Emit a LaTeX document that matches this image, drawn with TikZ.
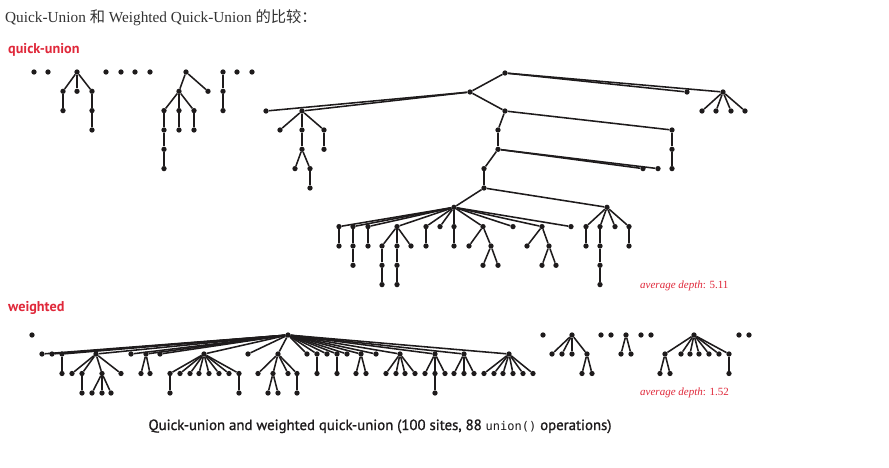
\documentclass[tikz,border=0pt]{standalone}
\usepackage{fontspec}
\setmainfont{Liberation Serif}
\newfontfamily\cjkfont{Noto Sans CJK SC}
\newfontfamily\lblfont{PT Sans}
\newfontfamily\capfont[FakeBold=1.2]{PT Sans}
\newfontfamily\codefont{DejaVu Sans Mono}
\definecolor{dotc}{HTML}{1E1B1C}
\definecolor{lblred}{HTML}{E0283A}
\definecolor{titlec}{HTML}{333333}
\begin{document}
\begin{tikzpicture}[x=1pt,y=-1pt,
  dot/.style={circle,fill=dotc,inner sep=0pt,minimum size=5.3pt},
  edge/.style={draw=dotc,line width=1.55pt},
  redlbl/.style={anchor=base west,text=lblred,font=\lblfont\bfseries\fontsize{14.2}{16}\selectfont},
  depthlbl/.style={anchor=base west,text=lblred,font=\fontsize{11}{13}\selectfont}]
\useasboundingbox[fill=white] (0,0) rectangle (889,467);

% ---------- texts ----------
\node[anchor=base west,text=titlec,font=\fontsize{15.3}{18}\selectfont,inner sep=0pt] (title) at (5,22)
  {Quick-Union {\cjkfont 和} Weighted Quick-Union {\cjkfont 的比较：}};
\node[redlbl,inner sep=0pt] (lq) at (8,53) {quick-union};
\node[redlbl,inner sep=0pt] (lw) at (8,311.5) {weighted};
\node[depthlbl,inner sep=0pt] (dq) at (640,288.2) {\textit{average depth}: 5.11};
\node[depthlbl,inner sep=0pt] (dw) at (640,395.3) {\textit{average depth}: 1.52};
\node[anchor=base,text=dotc,inner sep=0pt,font=\capfont\fontsize{14.8}{17}\selectfont] (cap) at (380,430)
  {Quick-union and weighted quick-union (100 sites, 88 {\codefont\fontsize{12}{14}\selectfont union()} operations)};

% ---------- quick-union ----------
\foreach \n/\x in {a1/34,a2/48,a3/106,a4/121,a5/135,a6/150,a7/237,a8/252}
  \node[dot] (\n) at (\x,72) {};
\node[dot] (t1r) at (77,72) {};
\node[dot] (t2r) at (186,72) {};
\node[dot] (t3r) at (223,72) {};
\node[dot] (R) at (470,92) {};
\foreach \n/\x/\y/\p in {
  t1a/63/91.3/t1r, t1b/77/91.3/t1r, t1c/92/91.3/t1r, t1d/63/110.6/t1a, t1e/92/110.6/t1c, t1f/92/130/t1e,
  t2a/179/91.3/t2r, t2b/208/91.3/t2r, t2c/164/110.6/t2a, t2d/179/110.6/t2a, t2e/194/110.6/t2a,
  t2f/164/130/t2c, t2g/164/149.3/t2f, t2h/164/168.6/t2g, t2i/179/130/t2d, t2j/194/130/t2e,
  t3a/223/91.3/t3r, t3b/223/110.6/t3a,
  p1/505/73/R, p2/687/92/p1, p3/723/92/p1,
  p3a/702/111/p3, p3b/716/111/p3, p3c/731/111/p3, p3d/745/111/p3,
  L1/266/111/R, L2/302/111/R, L2a/280/130/L2, L2b/302/130/L2, L2c/324/130/L2,
  L2d/324/149.3/L2c, L2e/302/149.3/L2b, L2f/295/168.6/L2e, L2g/310/168.6/L2e, L2h/310/188/L2g,
  m1/505/111/R, m2/498/130/m1, n1/672/130/m1, n2/672/149.3/n1, n3/672/168.6/n2,
  m3/498/149.3/m2, k1/643/168.6/m3, k2/658/168.6/m3, m4/484/168.6/m3, m5/484/188/m4,
  S/454/207.3/m5, U/607/207.3/m5,
  s1/339/226.6/S, s2/353/226.6/S, s3/368/226.6/S, s4/397/226.6/S, s5/426/226.6/S, s6/440/226.6/S,
  s7/454/226.6/S, s8/483/226.6/S, s9/513/226.6/S, s10/542/226.6/S, s11/571/226.6/S,
  s1a/339/246/s1, s2a/353/246/s2, s2b/353/265.3/s2a, s3a/368/246/s3,
  s4a/382/246/s4, s4b/397/246/s4, s4c/411/246/s4, s4d/382/265.3/s4a, s4e/382/284.6/s4d,
  s4f/397/265.3/s4b, s4g/397/284.6/s4f, s5a/426/246/s5, s7a/454/246/s7,
  s8a/469/246/s8, s8b/491/246/s8, s8c/483/265.3/s8b, s8d/498/265.3/s8b,
  s10a/527/246/s10, s10b/549/246/s10, s10c/542/265.3/s10b, s10d/556/265.3/s10b,
  u1/586/226.6/U, u2/600/226.6/U, u3/615/226.6/U, u4/629/226.6/U,
  u1a/586/246/u1, u2a/600/246/u2, u2b/600/265.3/u2a, u2c/600/284.6/u2b, u4a/629/246/u4}
{\node[dot] (\n) at (\x,\y) {}; \draw[edge] (\p) -- (\n);}

% ---------- weighted ----------
\foreach \n/\x in {w1/32,w2/543,w3/601,w4/611,w5/641,w6/651,w7/739,w8/749}
  \node[dot] (\n) at (\x,335) {};
\node[dot] (W) at (288,335) {};
\node[dot] (V1) at (572,335) {};
\node[dot] (V2) at (626,335) {};
\node[dot] (V3) at (694,335) {};
\foreach \n/\x/\y/\p in {
  c1/42/354/W, c2/52/354/W, c3/62/354/W, c4/96/354/W, c5/131/354/W, c6/146/354/W, c7/160/354/W,
  c8/204/354/W, c9/248/354/W, c10/278/354/W, c11/307/354/W, c12/317/354/W, c13/327/354/W,
  c14/337/354/W, c15/347/354/W, c16/361/354/W, c17/376/354/W, c18/400/354/W, c19/435/354/W,
  c20/464/354/W, c21/509/354/W,
  c3a/62/373.5/c3,
  c4a/72/373.5/c4, c4b/82/373.5/c4, c4c/102/373.5/c4, c4d/121/373.5/c4,
  c4e/82/393/c4b, c4f/92/393/c4c, c4g/102/393/c4c, c4h/111/393/c4c,
  c6a/141/373.5/c6, c6b/150/373.5/c6,
  c8a/170/373.5/c8, c8b/180/373.5/c8, c8c/190/373.5/c8, c8d/199/373.5/c8,
  c8e/209/373.5/c8, c8f/219/373.5/c8, c8g/229/373.5/c8, c8h/239/373.5/c8,
  c8i/170/393/c8a, c8j/239/393/c8h,
  c10a/258/373.5/c10, c10b/273/373.5/c10, c10c/288/373.5/c10, c10d/297/373.5/c10,
  c10e/268/393/c10b, c10f/278/393/c10b, c10g/297/393/c10d,
  c12a/317/373.5/c12, c14a/337/373.5/c14, c16a/356/373.5/c16, c16b/366/373.5/c16,
  c18a/386/373.5/c18, c18b/396/373.5/c18, c18c/405/373.5/c18, c18d/415/373.5/c18,
  c19a/425/373.5/c19, c19b/435/373.5/c19, c19c/445/373.5/c19, c19d/435/393/c19b,
  c20a/454/373.5/c20, c20b/464/373.5/c20, c20c/474/373.5/c20,
  c21a/484/373.5/c21, c21b/494/373.5/c21, c21c/503/373.5/c21, c21d/513/373.5/c21,
  c21e/523/373.5/c21, c21f/533/373.5/c21,
  v1a/552/354/V1, v1b/562/354/V1, v1c/572/354/V1, v1d/587/354/V1,
  v1e/582/373.5/v1d, v1f/592/373.5/v1d,
  v2a/621/354/V2, v2b/631/354/V2,
  v3a/665/354/V3, v3b/681/354/V3, v3c/690/354/V3, v3d/699/354/V3, v3e/709/354/V3,
  v3f/719/354/V3, v3g/729/354/V3,
  v3h/660/373.5/v3a, v3i/670/373.5/v3a, v3j/729/373.5/v3g}
{\node[dot] (\n) at (\x,\y) {}; \draw[edge] (\p) -- (\n);}
\end{tikzpicture}
\end{document}
